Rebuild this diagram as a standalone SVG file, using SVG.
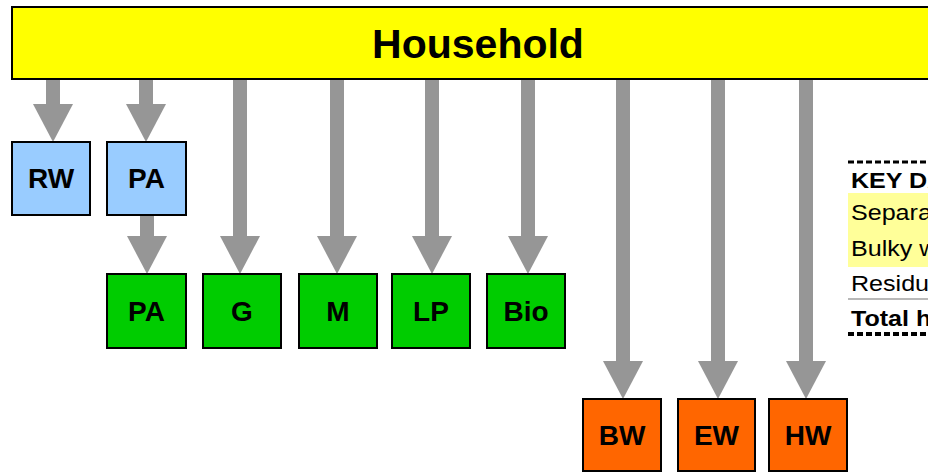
<svg xmlns="http://www.w3.org/2000/svg" width="928" height="472" viewBox="0 0 928 472">
<style>
.box{stroke:#000;stroke-width:2}
.hh{fill:#ffff00}
.blue{fill:#99ccff}
.green{fill:#00cc00}
.orange{fill:#ff6600}
.lbl{font-family:"Liberation Sans",Arial,sans-serif;font-weight:bold;font-size:28px;fill:#000;text-anchor:middle}
.title{font-family:"Liberation Sans",Arial,sans-serif;font-weight:bold;font-size:41px;fill:#000;text-anchor:middle}
.arr{stroke:#969696;stroke-width:14;fill:none;marker-end:url(#head)}
.kt{font-family:"Liberation Sans",Arial,sans-serif;font-size:22px;fill:#000}
.kb{font-weight:bold}
</style>
<defs>
<marker id="head" markerUnits="userSpaceOnUse" markerWidth="38" markerHeight="40" viewBox="0 0 38 40" refX="0" refY="20" orient="auto">
<path d="M0,0 L38,20 L0,40 z" fill="#969696"/>
</marker>
</defs>
<rect width="928" height="472" fill="#fff"/>
<g id="connectors">
<line class="arr" x1="53" y1="79" x2="53" y2="104"/>
<line class="arr" x1="146" y1="79" x2="146" y2="104"/>
<line class="arr" x1="147" y1="215" x2="147" y2="236"/>
<line class="arr" x1="240" y1="79" x2="240" y2="236"/>
<line class="arr" x1="337" y1="79" x2="337" y2="236"/>
<line class="arr" x1="432" y1="79" x2="432" y2="236"/>
<line class="arr" x1="528" y1="79" x2="528" y2="236"/>
<line class="arr" x1="623" y1="79" x2="623" y2="361"/>
<line class="arr" x1="718" y1="79" x2="718" y2="361"/>
<line class="arr" x1="806" y1="79" x2="806" y2="361"/>
</g>
<g id="household">
<rect class="box hh" x="12" y="7" width="930" height="72"/>
<text class="title" x="478" y="58">Household</text>
</g>
<g id="rw"><rect class="box blue" x="12" y="142" width="78" height="73"/><text class="lbl" x="51" y="188">RW</text></g>
<g id="pa1"><rect class="box blue" x="107" y="142" width="79" height="73"/><text class="lbl" x="146.5" y="188">PA</text></g>
<g id="pa2"><rect class="box green" x="107" y="274" width="79" height="74"/><text class="lbl" x="146.5" y="321">PA</text></g>
<g id="g"><rect class="box green" x="203" y="274" width="78" height="74"/><text class="lbl" x="242" y="321">G</text></g>
<g id="m"><rect class="box green" x="299" y="274" width="78" height="74"/><text class="lbl" x="338" y="321">M</text></g>
<g id="lp"><rect class="box green" x="392" y="274" width="78" height="74"/><text class="lbl" x="431" y="321">LP</text></g>
<g id="bio"><rect class="box green" x="487" y="274" width="78" height="74"/><text class="lbl" x="526" y="321">Bio</text></g>
<g id="bw"><rect class="box orange" x="583" y="399" width="78" height="72"/><text class="lbl" x="622" y="445">BW</text></g>
<g id="ew"><rect class="box orange" x="678" y="399" width="77" height="72"/><text class="lbl" x="716.5" y="445">EW</text></g>
<g id="hw"><rect class="box orange" x="769" y="399" width="78" height="72"/><text class="lbl" x="808" y="445">HW</text></g>
<g id="keydata">
<line x1="848" y1="162" x2="928" y2="162" stroke="#000" stroke-width="3" stroke-dasharray="6,3"/>
<rect x="848" y="193" width="80" height="74" fill="#ffff99"/>
<line x1="848" y1="299" x2="928" y2="299" stroke="#a0a0a0" stroke-width="1.5"/>
<line x1="848" y1="334" x2="928" y2="334" stroke="#000" stroke-width="4" stroke-dasharray="6,3"/>
<g transform="translate(851,0) scale(1.14,1) translate(-851,0)">
<text class="kt kb" x="851" y="188">KEY DATA</text>
<text class="kt" x="851" y="220">Separate collection</text>
<text class="kt" x="851" y="256">Bulky waste</text>
<text class="kt" x="851" y="291">Residual waste</text>
<text class="kt kb" x="851" y="326">Total household waste</text>
</g>
</g>
</svg>
